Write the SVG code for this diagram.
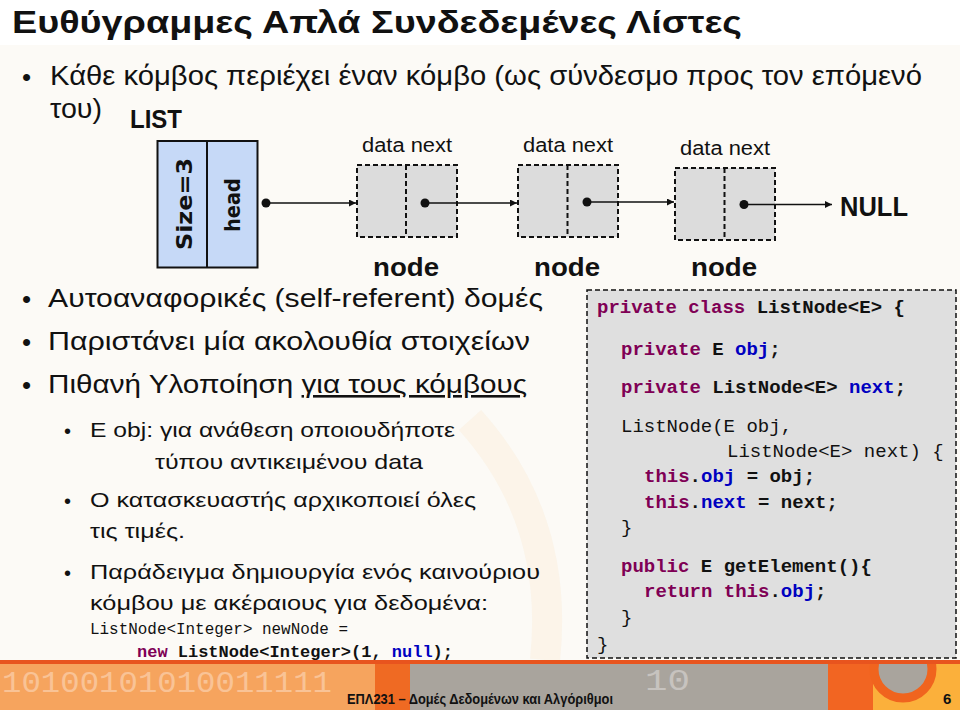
<svg xmlns="http://www.w3.org/2000/svg" width="960" height="710" viewBox="0 0 960 710">
<style>
.t{font-family:"Liberation Sans","Noto Sans",sans-serif;fill:#111}
.b{font-weight:bold}
.m{font-family:"Liberation Mono","DejaVu Sans Mono",monospace;fill:#111}
.k{fill:#7f0055;font-weight:bold}
.f{fill:#0000c0;font-weight:bold}
.node{fill:#dcdcdc;stroke:#111;stroke-width:2;stroke-dasharray:5 3}
.lnk{stroke:#111;stroke-width:1.5;fill:none}
.bin{font-family:"Liberation Mono",monospace;font-size:30px;fill:#ffffff;opacity:0.35}
</style>
<defs>
<marker id="ah" viewBox="0 0 10 10" refX="10" refY="5" markerWidth="7" markerHeight="7" orient="auto" markerUnits="userSpaceOnUse">
<path d="M0,0 L10,5 L0,10 z" fill="#111"/>
</marker>
<clipPath id="fc"><rect x="0" y="660" width="960" height="50"/></clipPath>
</defs>
<rect x="0" y="0" width="960" height="710" fill="#ffffff"/>
<rect x="0" y="45" width="960" height="615" fill="#fcfaf6"/>
<path d="M470,420 Q560,520 545,660" stroke="#fbe3c4" stroke-width="30" fill="none" opacity="0.25"/>

<g id="title">
<text class="t b" x="12" y="33" font-size="32" textLength="730" lengthAdjust="spacingAndGlyphs">Ευθύγραμμες Απλά Συνδεδεμένες Λίστες</text>
</g>

<g id="bullets">
<text class="t" x="22" y="86" font-size="26">•</text>
<text class="t" x="50" y="85" font-size="27" textLength="872" lengthAdjust="spacingAndGlyphs">Κάθε κόμβος περιέχει έναν κόμβο (ως σύνδεσμο προς τον επόμενό</text>
<text class="t" x="50" y="118" font-size="27" textLength="52" lengthAdjust="spacingAndGlyphs">του)</text>
<text class="t b" x="130" y="128" font-size="25" textLength="52" lengthAdjust="spacingAndGlyphs">LIST</text>

<text class="t" x="22" y="308" font-size="26">•</text>
<text class="t" x="48" y="307" font-size="26" textLength="495" lengthAdjust="spacingAndGlyphs">Αυτοαναφορικές (self-referent) δομές</text>
<text class="t" x="22" y="351" font-size="26">•</text>
<text class="t" x="48" y="350" font-size="26" textLength="482" lengthAdjust="spacingAndGlyphs">Παριστάνει μία ακολουθία στοιχείων</text>
<text class="t" x="22" y="394" font-size="26">•</text>
<text class="t" x="48" y="393" font-size="26" textLength="479" lengthAdjust="spacingAndGlyphs">Πιθανή Υλοποίηση <tspan text-decoration="underline">για τους κόμβους</tspan></text>

<text class="t" x="64" y="438" font-size="20">•</text>
<text class="t" x="90" y="437" font-size="21" textLength="365" lengthAdjust="spacingAndGlyphs">E obj: για ανάθεση οποιουδήποτε</text>
<text class="t" x="155" y="469" font-size="21" textLength="268" lengthAdjust="spacingAndGlyphs">τύπου αντικειμένου data</text>
<text class="t" x="64" y="508" font-size="20">•</text>
<text class="t" x="90" y="507" font-size="21" textLength="386" lengthAdjust="spacingAndGlyphs">Ο κατασκευαστής αρχικοποιεί όλες</text>
<text class="t" x="90" y="538" font-size="21" textLength="95" lengthAdjust="spacingAndGlyphs">τις τιμές.</text>
<text class="t" x="64" y="580" font-size="20">•</text>
<text class="t" x="90" y="579" font-size="21" textLength="450" lengthAdjust="spacingAndGlyphs">Παράδειγμα δημιουργία ενός καινούριου</text>
<text class="t" x="90" y="610" font-size="21" textLength="398" lengthAdjust="spacingAndGlyphs">κόμβου με ακέραιους για δεδομένα:</text>
<text class="m" x="90" y="634" font-size="16" textLength="258" lengthAdjust="spacingAndGlyphs">ListNode&lt;Integer&gt; newNode =</text>
<text class="m b" x="137" y="657" font-size="16" textLength="316" lengthAdjust="spacingAndGlyphs"><tspan class="k">new</tspan> ListNode&lt;Integer&gt;(1, <tspan class="f">null</tspan>);</text>
</g>

<g id="list">
<rect x="157.5" y="141" width="100" height="126.5" fill="#c6d9f7" stroke="#111" stroke-width="2"/>
<line x1="207" y1="141" x2="207" y2="267.5" stroke="#111" stroke-width="2"/>
<text class="b" font-family="DejaVu Sans, sans-serif" font-size="21" fill="#111" text-anchor="middle" transform="translate(192,204) rotate(-90)" textLength="92" lengthAdjust="spacingAndGlyphs">Size=3</text>
<text class="b" font-family="DejaVu Sans, sans-serif" font-size="21" fill="#111" text-anchor="middle" transform="translate(240,205) rotate(-90)" textLength="54" lengthAdjust="spacingAndGlyphs">head</text>
</g>

<g id="node1">
<text class="t" x="407" y="152" font-size="20" text-anchor="middle" textLength="90" lengthAdjust="spacingAndGlyphs">data next</text>
<rect class="node" x="357" y="165" width="100" height="72"/>
<line x1="406" y1="165" x2="406" y2="237" class="node"/>
<text class="t b" x="406" y="276" font-size="26" text-anchor="middle" textLength="66" lengthAdjust="spacingAndGlyphs">node</text>
</g>
<g id="node2">
<text class="t" x="568" y="152" font-size="20" text-anchor="middle" textLength="90" lengthAdjust="spacingAndGlyphs">data next</text>
<rect class="node" x="518" y="165" width="100" height="72"/>
<line x1="567.5" y1="165" x2="567.5" y2="237" class="node"/>
<text class="t b" x="567" y="276" font-size="26" text-anchor="middle" textLength="66" lengthAdjust="spacingAndGlyphs">node</text>
</g>
<g id="node3">
<text class="t" x="725" y="155" font-size="20" text-anchor="middle" textLength="90" lengthAdjust="spacingAndGlyphs">data next</text>
<rect class="node" x="675" y="168" width="100" height="72"/>
<line x1="724.5" y1="168" x2="724.5" y2="240" class="node"/>
<text class="t b" x="724" y="276" font-size="26" text-anchor="middle" textLength="66" lengthAdjust="spacingAndGlyphs">node</text>
</g>
<g id="null">
<text class="t b" x="840" y="216" font-size="27" textLength="68" lengthAdjust="spacingAndGlyphs">NULL</text>
</g>

<g id="connectors">
<circle cx="266" cy="203" r="4.5" fill="#111"/>
<line class="lnk" x1="266" y1="203" x2="356" y2="203" marker-end="url(#ah)"/>
<circle cx="425" cy="203" r="4.5" fill="#111"/>
<line class="lnk" x1="425" y1="203" x2="517" y2="203" marker-end="url(#ah)"/>
<circle cx="587" cy="202" r="4.5" fill="#111"/>
<line class="lnk" x1="587" y1="202" x2="674" y2="202" marker-end="url(#ah)"/>
<circle cx="744" cy="204.5" r="4.5" fill="#111"/>
<line class="lnk" x1="744" y1="204.5" x2="832" y2="204.5" marker-end="url(#ah)"/>
</g>

<g id="code">
<rect x="587" y="290" width="369" height="368" fill="#dfdfdf" stroke="#111" stroke-width="1.5" stroke-dasharray="5 3"/>
<g class="m b" font-size="19">
<text x="597" y="313"><tspan class="k">private class</tspan> ListNode&lt;E&gt; {</text>
<text x="621" y="355"><tspan class="k">private</tspan> E <tspan class="f">obj</tspan>;</text>
<text x="621" y="393"><tspan class="k">private</tspan> ListNode&lt;E&gt; <tspan class="f">next</tspan>;</text>
<text x="621" y="432" font-weight="normal">ListNode(E obj,</text>
<text x="727" y="457" font-weight="normal">ListNode&lt;E&gt; next) {</text>
<text x="644" y="482"><tspan class="k">this</tspan>.<tspan class="f">obj</tspan> = obj;</text>
<text x="644" y="508"><tspan class="k">this</tspan>.<tspan class="f">next</tspan> = next;</text>
<text x="621" y="533" font-weight="normal">}</text>
<text x="621" y="572"><tspan class="k">public</tspan> E getElement(){</text>
<text x="644" y="597"><tspan class="k">return this</tspan>.<tspan class="f">obj</tspan>;</text>
<text x="621" y="623" font-weight="normal">}</text>
<text x="597" y="650" font-weight="normal">}</text>
</g>
</g>

<g id="footer">
<g clip-path="url(#fc)">
<rect x="0" y="660" width="960" height="50" fill="#f6a45e"/>
<rect x="375" y="664" width="35" height="46" fill="#ef6a23"/>
<rect x="410" y="664" width="420" height="46" fill="#a9a49d"/>
<rect x="828" y="664" width="45" height="46" fill="#f26522"/>
<rect x="873" y="664" width="87" height="46" fill="#fbb03b"/>
<circle cx="903" cy="669" r="29" fill="#a9a49d" stroke="#f0641e" stroke-width="9"/>
<rect x="0" y="660" width="960" height="4" fill="#e8541e"/>
</g>
<text class="bin" x="2" y="692" textLength="330" lengthAdjust="spacingAndGlyphs">10100101010011111</text>
<text class="bin" x="645" y="690" textLength="45" lengthAdjust="spacingAndGlyphs">10</text>
<text class="t b" x="480" y="704" font-size="15" text-anchor="middle" textLength="266" lengthAdjust="spacingAndGlyphs">ΕΠΛ231 – Δομές Δεδομένων και Αλγόριθμοι</text>
<text class="t b" x="943" y="704" font-size="15">6</text>
</g>
</svg>
